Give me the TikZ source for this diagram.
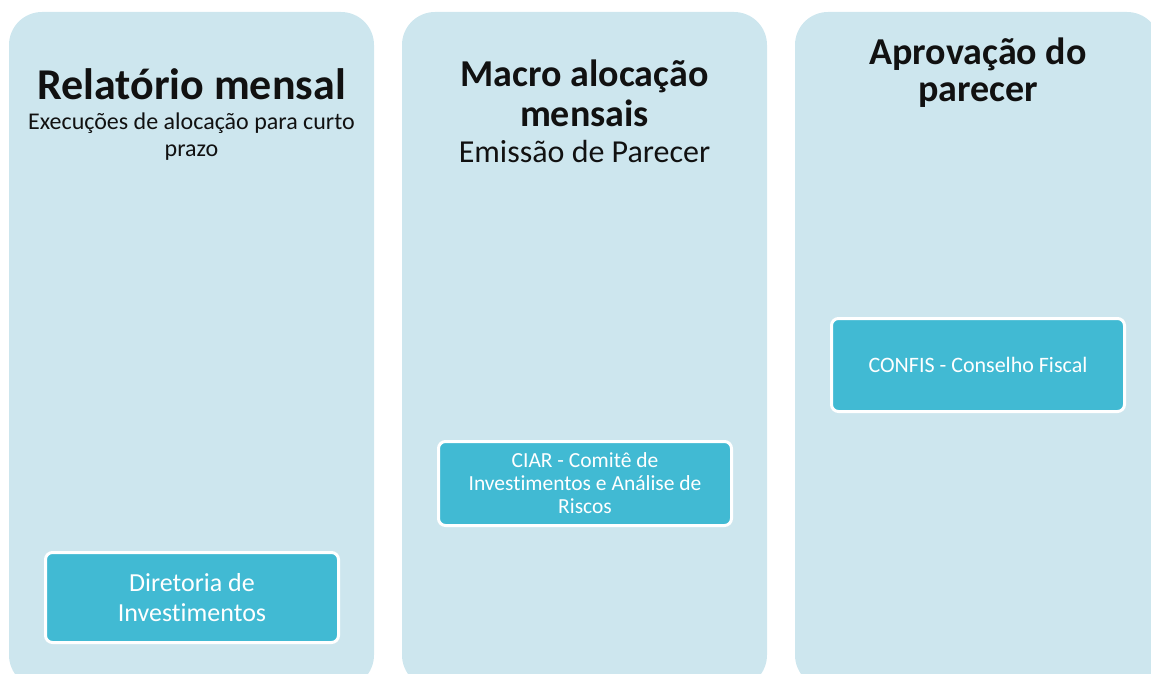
\documentclass[tikz,border=0pt]{standalone}
\usepackage{fontspec}
\setmainfont{Carlito}[RawFeature=-liga]
\definecolor{panelblue}{HTML}{CDE6EE}
\definecolor{boxblue}{HTML}{41BAD3}
\definecolor{txt}{HTML}{111111}
\begin{document}
\begin{tikzpicture}[x=1pt,y=-1pt,
  panel/.style={fill=panelblue,draw=none,rounded corners=33pt},
  rolebox/.style={fill=boxblue,draw=white,line width=3pt,rounded corners=7pt,
    minimum width=293pt,text=white,align=center,inner sep=0pt},
  ttl/.style={text=txt,align=center,inner sep=0pt,font=\bfseries}
]
\useasboundingbox (0,0) rectangle (1151,674);
\begin{scope}
\clip (0,0) rectangle (1151,674);
\path[panel] (9,12) rectangle (374,688);
\path[panel] (402,12) rectangle (767,688);
\path[panel] (795,12) rectangle (1160,688);
\end{scope}
% titles (base anchor = baseline of the last line)
\node[ttl,font=\fontsize{44}{44}\selectfont\bfseries,anchor=base] (t1) at (191.5,100) {Relatório mensal};
\node[text=txt,align=center,inner sep=0pt,font=\fontsize{24}{27}\selectfont,anchor=base] (s1) at (191.5,157) {Execuções de alocação para curto\\prazo};
\node[ttl,font=\fontsize{38}{40}\selectfont\bfseries,anchor=base] (t2) at (584.5,127) {Macro alocação\\mensais};
\node[text=txt,align=center,inner sep=0pt,font=\fontsize{32}{32}\selectfont,anchor=base] (s2) at (584.5,163) {Emissão de Parecer};
\node[ttl,font=\fontsize{38}{37}\selectfont\bfseries,anchor=base] (t3) at (978,102) {Aprovação do\\parecer};
% boxes
\node[rolebox,minimum height=90pt,font=\fontsize{26}{30}\selectfont] (b1) at (192,597.5) {Diretoria de\\Investimentos};
\node[rolebox,minimum height=84pt,font=\fontsize{21.5}{23}\selectfont] (b2) at (585,483.5) {CIAR - Comitê de\\Investimentos e Análise de\\Riscos};
\node[rolebox,minimum height=93pt,font=\fontsize{22}{24}\selectfont] (b3) at (978,365) {CONFIS - Conselho Fiscal};
\end{tikzpicture}
\end{document}
